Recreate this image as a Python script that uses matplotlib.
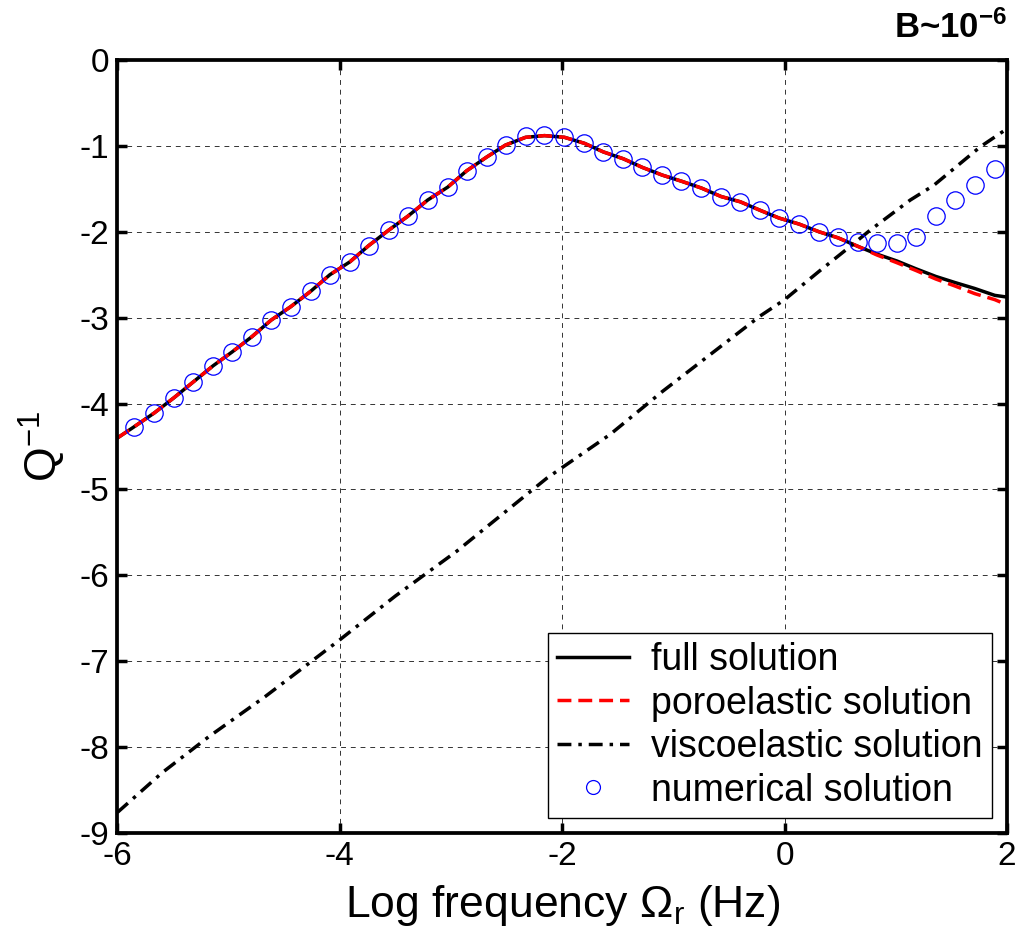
import matplotlib
matplotlib.use("Agg")
import matplotlib.pyplot as plt

plt.rcParams['font.family'] = ['Liberation Sans', 'DejaVu Sans']
plt.rcParams['mathtext.default'] = 'regular'
plt.rcParams['mathtext.fontset'] = 'custom'
plt.rcParams['mathtext.rm'] = 'Liberation Sans'
plt.rcParams['mathtext.it'] = 'Liberation Sans:italic'
plt.rcParams['mathtext.bf'] = 'Liberation Sans:bold'
plt.rcParams['axes.unicode_minus'] = False

# numerical solution (circles)
freq_num = [-5.85, -5.67, -5.49, -5.32, -5.14, -4.97, -4.79, -4.62, -4.44, -4.26,
            -4.09, -3.91, -3.74, -3.56, -3.39, -3.21, -3.03, -2.86, -2.68, -2.51,
            -2.33, -2.16, -1.98, -1.80, -1.63, -1.45, -1.28, -1.10, -0.93, -0.75,
            -0.57, -0.40, -0.22, -0.05, 0.13, 0.31, 0.48, 0.66, 0.83, 1.01,
            1.18, 1.36, 1.53, 1.71, 1.89]
q_num = [-4.27, -4.11, -3.93, -3.75, -3.56, -3.40, -3.22, -3.03, -2.87, -2.69,
         -2.50, -2.35, -2.16, -1.98, -1.82, -1.63, -1.48, -1.29, -1.13, -0.99,
         -0.89, -0.87, -0.90, -0.97, -1.07, -1.15, -1.25, -1.34, -1.41, -1.49,
         -1.59, -1.65, -1.75, -1.84, -1.91, -2.00, -2.06, -2.12, -2.13, -2.13,
         -2.06, -1.82, -1.63, -1.45, -1.27]

# full and poroelastic solutions
freq_line = [-6.00, -5.85, -5.67, -5.49, -5.32, -5.14, -4.97, -4.79, -4.62, -4.44,
             -4.26, -4.09, -3.91, -3.74, -3.56, -3.39, -3.21, -3.03, -2.86, -2.68,
             -2.51, -2.33, -2.16, -1.98, -1.80, -1.63, -1.45, -1.28, -1.10, -0.93,
             -0.75, -0.57, -0.40, -0.22, -0.05, 0.13, 0.31, 0.48, 0.66, 0.83,
             1.01, 1.18, 1.36, 1.53, 1.71, 1.89, 2.00]
q_full = [-4.40, -4.27, -4.11, -3.93, -3.75, -3.56, -3.40, -3.22, -3.03, -2.87,
          -2.69, -2.50, -2.35, -2.16, -1.98, -1.82, -1.63, -1.48, -1.29, -1.13,
          -0.99, -0.90, -0.88, -0.90, -0.97, -1.07, -1.15, -1.25, -1.34, -1.41,
          -1.49, -1.59, -1.65, -1.75, -1.84, -1.91, -2.00, -2.07, -2.17, -2.26,
          -2.34, -2.43, -2.52, -2.59, -2.66, -2.74, -2.76]
q_poro = [-4.40, -4.27, -4.11, -3.93, -3.75, -3.56, -3.40, -3.22, -3.03, -2.87,
          -2.69, -2.50, -2.35, -2.16, -1.98, -1.82, -1.63, -1.48, -1.29, -1.13,
          -0.99, -0.90, -0.88, -0.90, -0.97, -1.07, -1.15, -1.25, -1.34, -1.41,
          -1.49, -1.59, -1.65, -1.75, -1.84, -1.91, -2.00, -2.07, -2.17, -2.27,
          -2.36, -2.45, -2.55, -2.63, -2.72, -2.79, -2.85]

# viscoelastic solution
freq_visco = [-6.00, -5.60, -5.18, -4.67, -4.00, -3.50, -2.95, -2.14, -1.57, -1.10,
              -0.61, -0.22, 0.00, 0.31, 0.59, 0.77, 1.13, 1.34, 1.76, 2.00]
q_visco = [-8.76, -8.30, -7.88, -7.41, -6.75, -6.24, -5.72, -4.87, -4.36, -3.86,
           -3.37, -2.98, -2.79, -2.46, -2.17, -1.98, -1.63, -1.46, -1.01, -0.80]

fig = plt.figure(figsize=(10.26, 9.44), dpi=100)
ax = fig.add_axes([0.1145, 0.1176, 0.867, 0.8188])

ax.plot(freq_line, q_full, '-', color='black', lw=2.5, label='full solution')
ax.plot(freq_line, q_poro, '--', color='red', lw=2.5, dashes=(4, 2), label='poroelastic solution')
ax.plot(freq_visco, q_visco, '-.', color='black', lw=2.5, dashes=(4, 2, 1, 2), label='viscoelastic solution')
ax.plot(freq_num, q_num, 'o', mfc='none', mec='blue', ms=12.5, mew=0.9, label='numerical solution')

ax.set_xlim(-6, 2)
ax.set_ylim(-9, 0)
ax.set_xticks([-6, -4, -2, 0, 2])
ax.set_yticks(range(-9, 1))
ax.grid(True, color='black', ls=(0, (5, 5)), lw=0.7, alpha=0.8)
ax.tick_params(direction='in', length=7, width=2.5, labelsize=24, top=True, right=True, pad=6)
for s in ax.spines.values():
    s.set_linewidth(2.7)

ax.set_xlabel(r'Log frequency $\Omega_r$ (Hz)', fontsize=32, labelpad=8)
ax.set_ylabel(r'$Q^{-1}$', fontsize=32, labelpad=8)
ax.set_title(r'$\mathbf{B}$~$\mathbf{10^{-6}}$', loc='right', fontsize=25, fontweight='bold', pad=16)

leg = ax.legend(loc='lower right', fontsize=27, frameon=True, fancybox=False,
                edgecolor='black', framealpha=1, markerscale=0.8,
                handlelength=1.9, handletextpad=0.6, borderpad=0.25, labelspacing=0.2,
                borderaxespad=0.4)
leg.get_frame().set_linewidth(1.0)

fig.savefig('out.png', dpi=100)
